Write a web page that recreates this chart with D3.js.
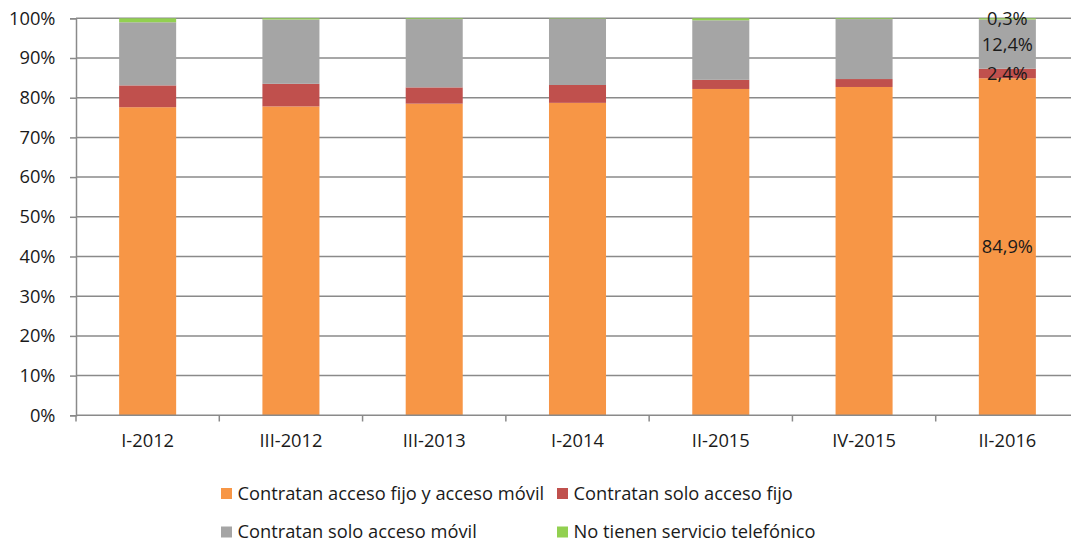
<!DOCTYPE html>
<html>
<head>
<meta charset="utf-8">
<script src="https://cdn.jsdelivr.net/npm/d3@7"></script>
<style>
  body { margin: 0; background: #fff; }
  svg text { font-family: "Open Sans", sans-serif; fill: #1a1a1a; }
</style>
</head>
<body>
<svg id="chart" width="1071" height="544"></svg>
<script>
// Periods (x axis categories)
const periods = ["I-2012", "III-2012", "III-2013", "I-2014", "II-2015", "IV-2015", "II-2016"];

// Series values, % of households
const fijoYMovil = [77.6, 77.8, 78.5, 78.7, 82.2, 82.7, 84.9];
const soloFijo   = [5.5, 5.7, 4.1, 4.5, 2.3, 2.0, 2.4];
const soloMovil  = [15.9, 16.2, 17.2, 16.7, 15.0, 15.1, 12.4];
const sinServicio = [1.0, 0.3, 0.2, 0.1, 0.5, 0.2, 0.3];

const seriesNames = [
    "Contratan acceso fijo y acceso móvil",
    "Contratan solo acceso fijo",
    "Contratan solo acceso móvil",
    "No tienen servicio telefónico"
];
const colors = ["#F79646", "#C0504D", "#A5A5A5", "#92D050"];

const yTicks = [0, 10, 20, 30, 40, 50, 60, 70, 80, 90, 100];

// labelled values only on the last bar
const labelIndex = 6;

const fontSize = "18.3px";

const svg = d3.select("#chart");

const x = d3.scaleBand()
    .domain(periods)
    .range([76, 1079])
    .paddingInner(0.602)
    .paddingOuter(0.301);

const y = d3.scaleLinear()
    .domain([0, 100])
    .range([415.3, 18.3]);

// Gridlines
svg.append("g")
    .selectAll("line")
    .data(yTicks.filter(d => d > 0))
    .join("line")
    .attr("x1", 76).attr("x2", 1071)
    .attr("y1", d => y(d)).attr("y2", d => y(d))
    .attr("stroke", "#8a8a8a")
    .attr("stroke-width", 1.5);

// Stack the data
const table = periods.map((p, i) => ({
    period: p,
    s0: fijoYMovil[i], s1: soloFijo[i], s2: soloMovil[i], s3: sinServicio[i]
}));
const stack = d3.stack().keys(["s0", "s1", "s2", "s3"])(table);

svg.append("g")
    .selectAll("g")
    .data(stack)
    .join("g")
    .attr("fill", (d, i) => colors[i])
    .selectAll("rect")
    .data(d => d)
    .join("rect")
    .attr("x", d => x(d.data.period))
    .attr("y", d => y(d[1]))
    .attr("width", x.bandwidth())
    .attr("height", d => y(d[0]) - y(d[1]));

// Data labels on the last bar
const fmt = v => d3.format(".1f")(v).replace(".", ",") + "%";
svg.append("g")
    .selectAll("text")
    .data(stack.map(s => s[labelIndex]))
    .join("text")
    .attr("x", d => x(d.data.period) + x.bandwidth() / 2)
    .attr("y", d => (y(d[0]) + y(d[1])) / 2)
    .attr("dy", "0.35em")
    .attr("text-anchor", "middle")
    .style("font-size", fontSize)
    .text(d => fmt(d[1] - d[0]));

// Y axis
const yAxis = svg.append("g")
    .attr("transform", "translate(76,0)")
    .call(d3.axisLeft(y).tickValues(yTicks).tickSize(6).tickPadding(14.5).tickFormat(d => d + "%"));
yAxis.selectAll("line, path").attr("stroke", "#8a8a8a").attr("stroke-width", 1.5);
yAxis.selectAll("text").style("font-size", fontSize).attr("fill", "#1a1a1a");

// X axis
const xAxis = svg.append("g")
    .attr("transform", "translate(0,415.3)")
    .call(d3.axisBottom(x).tickSize(0).tickPadding(19));
xAxis.select("path").attr("stroke", "#8a8a8a").attr("stroke-width", 1.5).attr("d", "M76,0H1071");
xAxis.selectAll("text").style("font-size", fontSize).attr("fill", "#1a1a1a");

// Category separators on x axis
svg.append("g")
    .selectAll("line")
    .data(d3.range(periods.length + 1))
    .join("line")
    .attr("x1", i => 76 + i * x.step())
    .attr("x2", i => 76 + i * x.step())
    .attr("y1", 415.3).attr("y2", 421.5)
    .attr("stroke", "#8a8a8a")
    .attr("stroke-width", 1.5);

// Legend
const legendPos = [[221, 493.5], [557, 493.5], [221, 532], [557, 532]];
const legend = svg.append("g")
    .selectAll("g")
    .data(seriesNames)
    .join("g")
    .attr("transform", (d, i) => `translate(${legendPos[i][0]},${legendPos[i][1]})`);

legend.append("rect")
    .attr("x", 0).attr("y", -5.5)
    .attr("width", 11).attr("height", 11)
    .attr("fill", (d, i) => colors[i]);

legend.append("text")
    .attr("x", 16.5)
    .attr("dy", "0.35em")
    .style("font-size", fontSize)
    .text(d => d);
</script>
</body>
</html>
